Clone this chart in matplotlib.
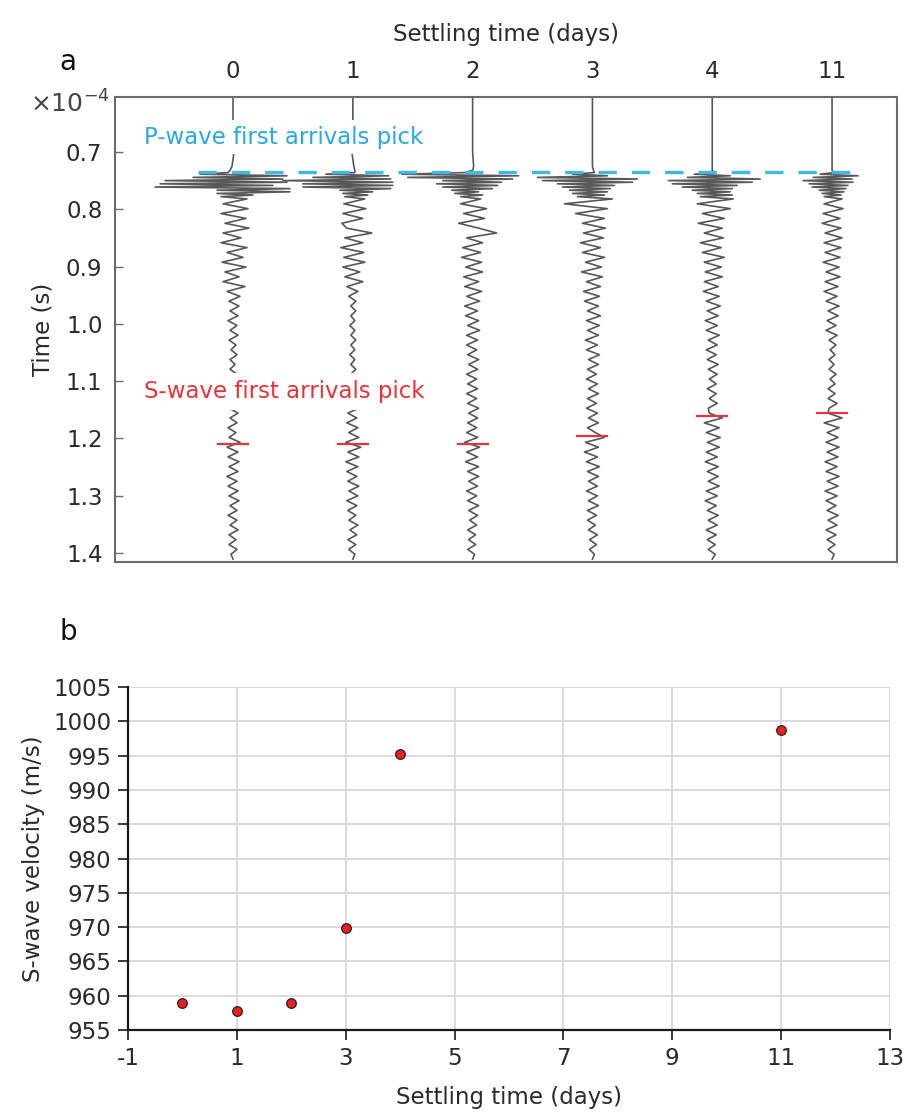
import numpy as np
import matplotlib
matplotlib.use("Agg")
import matplotlib.pyplot as plt

plt.rcParams['font.family'] = ['DejaVu Sans']
plt.rcParams['axes.unicode_minus'] = False

# ---------------- data ----------------
days = [0, 1, 2, 3, 4, 11]
day_labels = ['0', '1', '2', '3', '4', '11']
vs = [959.0, 957.7, 959.0, 969.8, 995.2, 998.8]

p_pick = 0.735
s_picks = [1.2105, 1.2105, 1.2105, 1.1965, 1.1617, 1.1564]

t_pre = [0.604, 0.66, 0.70, 0.725, 0.732]
t_dense = list(np.round(0.736 + 0.0028 * np.arange(16), 4))
t_tail = list(np.round(0.782 + 0.0085 * np.arange(75), 4))
t_samples = np.array(t_pre + t_dense + t_tail)

# trace amplitudes (pixel units)
trace_d0 = [0, 0, 1, -1, -3,
            -5, -33, 54, -40, 50, -68, 54, -73, 40, -78, 57, -16, 57, -16, 20, -12,
            14, -10, 15, -12, 13, -8, 16, -10, 8, -12,
            14, -6, 10, -11, 13, -8, 6, -10, 12, -6,
            7, -4, 6, -3, 5, -5, 4, -3, 5, -4,
            3, -2, 4, -3, 2, -3, 4, -2, 3, -3,
            4, -3, 3, -4, 5, -3, 4, -5, 3, -4,
            7, -6, 5, -5, 6, -4, 5, -6, 4, -5,
            5, -4, 6, -3, 4, -5, 4, -3, 5, -4,
            3, -4, 4, -2, 0]
trace_d1 = [0, 0, -1, 1, 2,
            2, -27, 36, -40, 38, -70, 40, -50, 40, -50, 38, -13, 20, -10, 15, -8,
            12, -9, 13, -10, 10, -11, -6, 19, -8, 10,
            -12, 11, -9, 12, -10, 7, -8, 10, -6, 5,
            -4, 3, -2, 3, -2, 2, -3, 2, -2, 3,
            -2, 2, -3, 2, -2, 3, -2, 2, -3, 2,
            -4, 5, -3, 6, -5, 4, -6, 5, -4, 6,
            -7, 8, -5, 6, -7, 5, -6, 4, -5, 6,
            -4, 5, -6, 4, -5, 3, -4, 5, -3, 4,
            -5, 3, -4, 2, 0]
trace_d2 = [0, 0, 0, 1, 0,
            -8, -71, 46, -65, 40, -30, 29, -36, 25, -30, 20, -21, 6, -18, 10, -12,
            8, -12, 14, -9, 12, -14, 6, 24, -6, 10,
            -10, 8, -11, 9, -7, 10, -9, 6, -8, 9,
            -6, 7, -8, 5, -7, 6, -5, 7, -6, 5,
            -6, 4, -5, 6, -4, 5, -6, 4, -5, 5,
            -6, 4, -5, 6, -4, 5, -5, 4, -6, 5,
            -8, 7, -6, 5, -7, 6, -5, 6, -4, 5,
            -6, 4, -5, 6, -4, 5, -3, 4, -5, 3,
            -4, 3, -5, 2, 0]
trace_d3 = [0, 0, 0, 0, 1,
            2, -20, 15, -55, 45, -50, 40, -35, 22, -30, 18, -23, 15, -20, 12, -15,
            20, -28, 15, -17, 12, -10, 13, -9, 11, -12,
            8, -10, 12, -7, 9, -11, 10, -6, 8, -9,
            7, -8, 6, -5, 8, -6, 7, -5, 6, -7,
            5, -6, 7, -4, 6, -5, 4, -6, 5, -4,
            6, -5, 4, -6, 5, -4, 6, -5, 3, 12,
            -7, 6, -8, 5, -6, 7, -5, 6, -4, 5,
            -6, 5, -4, 6, -5, 4, -5, 3, -4, 5,
            -3, 4, -3, 2, 0]
trace_d4 = [0, 0, 0, 0, 0,
            3, -18, 18, -25, 48, -44, 40, -40, 25, -30, 20, -20, 18, -15, 20, -12,
            21, -15, 18, -10, 12, -14, 10, -8, 11, -12,
            9, -10, 12, -8, 9, -7, 10, -8, 6, -9,
            7, -6, 8, -5, 6, -7, 5, -6, 7, -4,
            5, -6, 4, -5, 6, -4, 5, -3, 4, -5,
            4, -3, 5, -4, -3, 10, -8, 7, -6, 8,
            -5, 7, -6, 5, -7, 6, -5, 6, -4, 7,
            -6, 5, -7, 4, -5, 6, -4, 5, -6, 4,
            -5, 3, -4, 3, 0]
trace_d11 = [0, 0, 0, 0, 0,
             2, -12, 26, -19, 20, -29, 21, -23, 16, -20, 14, -13, 12, -10, 9, -8,
             10, -8, 11, -9, 8, -10, 9, -7, 10, -8,
             9, -7, 8, -9, 7, -6, 8, -7, 6, -8,
             5, -6, 7, -4, 6, -5, 4, -6, 5, -3,
             4, -2, 3, -3, 2, -3, 4, -2, 3, -4,
             3, -4, 5, -3, -4, 10, -8, 7, -5, 6,
             -6, 7, -5, 6, -7, 5, -6, 7, -5, 6,
             -7, 5, -6, 4, -5, 6, -4, 5, -6, 4,
             -5, 3, -4, 2, 0]
traces = [trace_d0, trace_d1, trace_d2, trace_d3, trace_d4, trace_d11]

# ---------------- styling / layout ----------------
W, H = 907, 1115
fig = plt.figure(figsize=(W / 100, H / 100), dpi=100)

gain = 1 / 120.0          # pixel amplitude -> trace spacing units
trace_col = '#585858'
pick_blue = '#3DB8E8'
pick_red = '#E8333A'
spine_gray = '#6b6b6b'
txt = '#2a2a2a'
FS = 16.5

# ---------- panel a ----------
axa = fig.add_axes([115 / W, 1 - 562 / H, 782 / W, 465 / H])
positions = np.arange(1, len(days) + 1)
for pos, amp, sp in zip(positions, traces, s_picks):
    axa.plot(pos + np.array(amp) * gain, t_samples, color=trace_col, lw=1.2, zorder=2)
    axa.plot([pos - 0.125, pos + 0.125], [sp, sp], color=pick_red, lw=1.6, zorder=4)

axa.plot([0.708, 6.234], [p_pick, p_pick], color=pick_blue, lw=2.4,
         dashes=(5.5, 4.5), zorder=3)

axa.set_xlim(0.015, 6.542)
axa.set_ylim(1.416, 0.604)
axa.set_yticks([0.7, 0.8, 0.9, 1.0, 1.1, 1.2, 1.3, 1.4])
axa.set_yticklabels(['0.7', '0.8', '0.9', '1.0', '1.1', '1.2', '1.3', '1.4'])
axa.xaxis.tick_top()
axa.xaxis.set_label_position('top')
axa.set_xticks(positions)
axa.set_xticklabels(day_labels)
axa.tick_params(axis='x', length=0, pad=10, labelsize=FS, colors=txt)
axa.tick_params(axis='y', direction='in', length=6, width=1, color=spine_gray,
                labelsize=FS, labelcolor=txt, pad=9)
axa.set_xlabel('Settling time (days)', fontsize=FS, labelpad=14, color=txt)
axa.set_ylabel('Time (s)', fontsize=FS, labelpad=8, color=txt)
for s in axa.spines.values():
    s.set_color(spine_gray)
    s.set_linewidth(1.5)

axa.text(0.257, 0.674, 'P-wave first arrivals pick', color='#2AA8E0', fontsize=FS,
         ha='left', va='center', zorder=5,
         bbox=dict(facecolor='white', edgecolor='none', pad=4))
axa.text(0.257, 1.118, 'S-wave first arrivals pick', color=pick_red, fontsize=FS,
         ha='left', va='center', zorder=5,
         bbox=dict(facecolor='white', edgecolor='none', pad=5))

fig.text(110 / W, 1 - 104 / H, r'$\times10^{-4}$', fontsize=18, ha='right', va='center',
         color='#444444')
fig.text(68 / W, 1 - 62 / H, 'a', fontsize=20, ha='center', va='center', color='#111111')
fig.text(68 / W, 1 - 632 / H, 'b', fontsize=20, ha='center', va='center', color='#111111')

# ---------- panel b ----------
axb = fig.add_axes([128 / W, 1 - 1030 / H, 762 / W, 343 / H])
axb.scatter(days, vs, s=48, color='#E8201F', edgecolors='#222222', linewidths=0.9,
            zorder=3, clip_on=False)
axb.set_xlim(-1, 13)
axb.set_ylim(955, 1005)
axb.set_xticks(np.arange(-1, 14, 2))
axb.set_yticks(np.arange(955, 1006, 5))
axb.grid(True, color='#d8d8dc', lw=1.3)
axb.set_axisbelow(True)
for side in ['top', 'right']:
    axb.spines[side].set_visible(False)
for side in ['left', 'bottom']:
    axb.spines[side].set_color('#1a1a1a')
    axb.spines[side].set_linewidth(1.6)
axb.tick_params(direction='out', length=7, width=1.2, color='#1a1a1a',
                labelsize=FS, labelcolor=txt, pad=5)
axb.set_xlabel('Settling time (days)', fontsize=FS, labelpad=12, color=txt)
axb.set_ylabel('S-wave velocity (m/s)', fontsize=FS, labelpad=6, color=txt)

fig.savefig('out.png', dpi=100)
